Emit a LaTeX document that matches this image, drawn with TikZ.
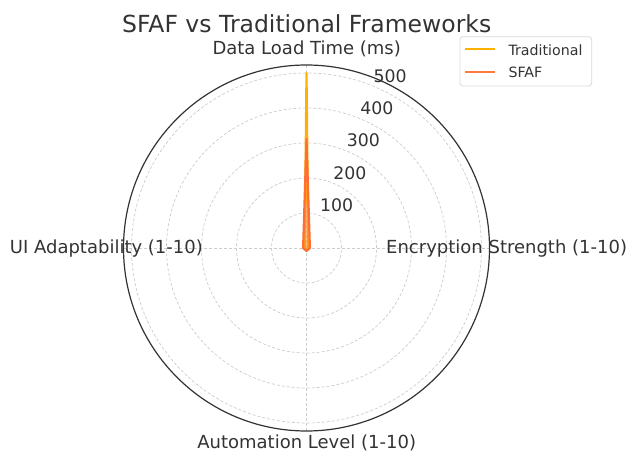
\documentclass[tikz,border=0pt]{standalone}
\usepackage{fontspec}
\setmainfont{DejaVu Sans}
\usepackage{tikz}
\usepackage{xcolor}
\usetikzlibrary{positioning, calc}

\definecolor{tradcol}{HTML}{FFB000}
\definecolor{sfafcol}{HTML}{FF7A3C}
\definecolor{inkcol}{HTML}{333333}
\definecolor{gridcol}{HTML}{CCCCCC}

\begin{document}
\begin{tikzpicture}[x=1pt, y=1pt,
  ring/.style={draw=gridcol, line width=0.7pt, dash pattern=on 3pt off 2pt},
  ticklabel/.style={anchor=base west, inner sep=0pt, yshift=4pt, text=inkcol, font=\fontsize{17.3}{18}\selectfont},
  axislabel/.style={inner sep=0pt, text=inkcol, font=\fontsize{18}{20}\selectfont},
  series/.style={line width=2.2pt, line join=round, fill opacity=0.3}]
  \useasboundingbox (0,0) rectangle (626,455);
        \coordinate (O) at (306.5,207);
        % grid rings and spokes
        \foreach \r/\v in {35/100, 70/200, 105/300, 140/400, 175/500} {
            \draw[ring] (O) circle (\r);
            \node[ticklabel] (tick\v) at ($(O)+(67.5:\r)$) {\v};
        }
        \foreach \a in {0, 90, 180, 270}
            \draw[ring] (O) -- ($(O)+(\a:183)$);
        \draw[inkcol, line width=1.2pt] (O) circle (183);
        % data
        \draw[series, draw=tradcol, fill=tradcol] ($(O)+(90:175)$) -- ($(O)+(0:1.8)$) -- ($(O)+(270:1.5)$) -- ($(O)+(180:1.8)$) -- cycle;
        \draw[series, draw=sfafcol!90!red, fill=sfafcol] ($(O)+(90:109)$) -- ($(O)+(0:3.4)$) -- ($(O)+(270:3)$) -- ($(O)+(180:3.4)$) -- cycle;
        % axis labels
        \node[axislabel, anchor=base] (load) at (306.7,400) {Data Load Time (ms)};
        \node[axislabel, anchor=base west] (enc) at (386,201.7) {Encryption Strength (1-10)};
        \node[axislabel, anchor=base] (auto) at (306.7,6.7) {Automation Level (1-10)};
        \node[axislabel, anchor=base east] (ui) at (203,201.7) {UI Adaptability (1-10)};
        \node[inner sep=0pt, anchor=base, text=inkcol, font=\fontsize{23.5}{26}\selectfont] (title) at (306.7,422.7) {SFAF vs Traditional Frameworks};
        % legend
        \draw[gray!30, fill=white, rounded corners=3pt, line width=0.8pt] (460,418.3) rectangle (591.7,369);
        \coordinate (t1) at (465,406);
        \coordinate (t2) at (495,406);
        \coordinate (s1) at (465,383.3);
        \coordinate (s2) at (495,383.3);
        \draw[tradcol, line width=2pt] (t1) -- (t2);
        \draw[sfafcol, line width=2pt] (s1) -- (s2);
        \node[inner sep=0pt, anchor=base west, text=inkcol, font=\fontsize{14.2}{16}\selectfont] (legtrad) at (508.3,399) {Traditional};
        \node[inner sep=0pt, anchor=base west, text=inkcol, font=\fontsize{14.2}{16}\selectfont] (legsfaf) at (508.3,377) {SFAF};
  \end{tikzpicture}
\end{document}
